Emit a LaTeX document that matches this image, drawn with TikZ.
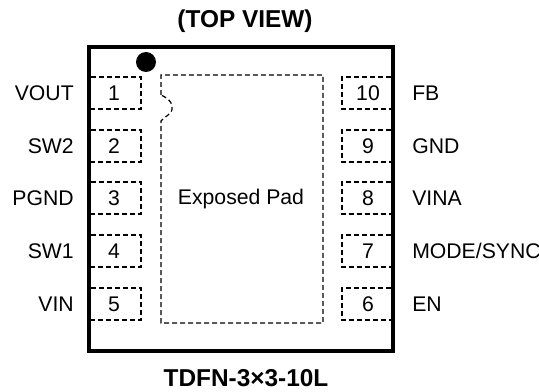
\documentclass[tikz,border=0pt]{standalone}
\usepackage{fontspec}
\setmainfont{Liberation Sans}
\begin{document}
\begin{tikzpicture}[x=0.75pt,y=-0.75pt,
  padline/.style={draw=black,line width=0.9pt,dash pattern=on 3.6pt off 2.4pt},
  lbl/.style={font=\fontsize{15.9pt}{18pt}\selectfont,inner sep=0pt},
  ttl/.style={font=\bfseries\fontsize{18.3pt}{20pt}\selectfont,inner sep=0pt}]
\useasboundingbox (0,0) rectangle (539,392);
\draw[line width=3.4pt,line join=miter] (89,47) rectangle (393,351);
\node[ttl] (top) at (245,21) {(TOP VIEW)};
\node[ttl] (bot) at (246,378) {TDFN-3×3-10L};
\fill (146,62) circle (10);
% left pads
\foreach \n/\y/\name in {1/77/VOUT,2/130/SW2,3/182/PGND,4/235/SW1,5/288/VIN}{
  \draw[padline] (91,\y) -- (141,\y) -- (141,\y+32) -- (91,\y+32);
  \node[lbl] (p\n) at (114,\y+16) {\n};
  \node[lbl,anchor=east] (l\n) at (74,\y+16) {\name};
}
% right pads
\foreach \n/\y/\name in {10/77/FB,9/130/GND,8/182/VINA,7/235/MODE\slash SYNC,6/288/EN}{
  \draw[padline] (391,\y) -- (342,\y) -- (342,\y+32) -- (391,\y+32);
  \node[lbl] (p\n) at (368,\y+16) {\n};
  \node[lbl,anchor=west] (l\n) at (412,\y+16) {\name};
}
% exposed pad
\draw[padline] (161,95) -- (161,75) -- (323,75) -- (323,323) -- (161,323) -- (161,121)
  .. controls (164,116) and (173,115) .. (172,107) .. controls (172,100) and (165,97) .. (161,95);
\node[lbl] (ep) at (241,199) {Exposed Pad};
\end{tikzpicture}
\end{document}
